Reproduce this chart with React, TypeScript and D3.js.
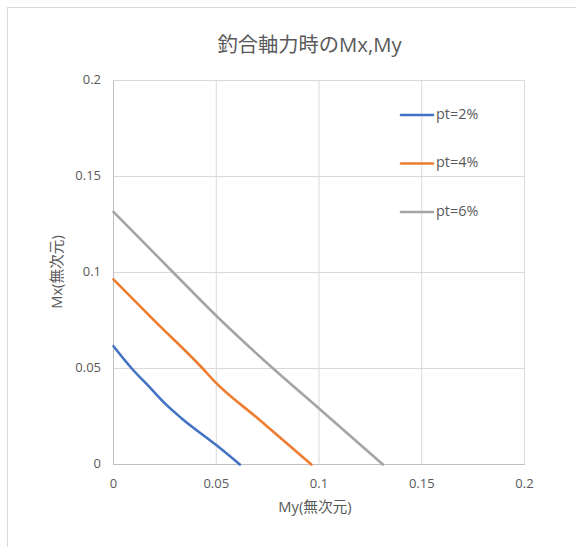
import React from "react";
import * as d3 from "d3";

const title = "釣合軸力時のMx,My";
const xTitle = "My(無次元)";
const yTitle = "Mx(無次元)";
const tickValues = [0, 0.05, 0.1, 0.15, 0.2];
const tickLabels = ["0", "0.05", "0.1", "0.15", "0.2"];

const seriesNames = ["pt=2%", "pt=4%", "pt=6%"];
const seriesColors = ["#4472C4", "#ED7D31", "#A5A5A5"];

const myPt2 = [0, 0.0089, 0.018, 0.0259, 0.0332, 0.05, 0.0615];
const mxPt2 = [0.0616, 0.05, 0.0398, 0.0309, 0.024, 0.0101, 0];
const myPt4 = [0, 0.02, 0.0434, 0.0494, 0.07, 0.0963];
const mxPt4 = [0.0964, 0.0748, 0.05, 0.043, 0.0242, 0];
const myPt6 = [0, 0.0291, 0.05, 0.0777, 0.1, 0.1311];
const mxPt6 = [0.1316, 0.1, 0.0775, 0.05, 0.0292, 0];

const seriesX = [myPt2, myPt4, myPt6];
const seriesY = [mxPt2, mxPt4, mxPt6];

const FONT = "'Open Sans', 'Noto Sans CJK JP', sans-serif";
const TEXT = "#595959";

export default function App() {
  const x = d3.scaleLinear().domain([0, 0.2]).range([113.5, 524.5]);
  const y = d3.scaleLinear().domain([0, 0.2]).range([464.5, 80.5]);
  const line = d3
    .line<[number, number]>()
    .x((d) => x(d[0]))
    .y((d) => y(d[1]))
    .curve(d3.curveMonotoneX);

  const legendY = [115, 163.5, 212];

  return (
    <svg
      width={576}
      height={547}
      style={{ position: "fixed", left: 0, top: 0, background: "#fff" }}
    >
      <rect x={0} y={0} width={576} height={547} fill="#fff" />
      <rect x={7.5} y={7.5} width={700} height={700} fill="none" stroke="#d9d9d9" />
      <text
        x={309.5}
        y={47}
        textAnchor="middle"
        dominantBaseline="middle"
        fontFamily={FONT}
        fontSize={20.3}
        fill={TEXT}
      >
        {title}
      </text>
      {tickValues.map((t, i) => (
        <line
          key={"gx" + i}
          x1={x(t)}
          x2={x(t)}
          y1={y(0)}
          y2={y(0.2)}
          stroke="#d9d9d9"
          strokeWidth={1}
        />
      ))}
      {tickValues.map((t, i) => (
        <line
          key={"gy" + i}
          x1={x(0)}
          x2={x(0.2)}
          y1={y(t)}
          y2={y(t)}
          stroke="#d9d9d9"
          strokeWidth={1}
        />
      ))}
      <line x1={x(0)} x2={x(0)} y1={y(0)} y2={y(0.2)} stroke="#bfbfbf" strokeWidth={1} />
      <line x1={x(0)} x2={x(0.2)} y1={y(0)} y2={y(0)} stroke="#bfbfbf" strokeWidth={1} />
      {tickValues.map((t, i) => (
        <text
          key={"tx" + i}
          x={x(t)}
          y={485}
          textAnchor="middle"
          dominantBaseline="middle"
          fontFamily={FONT}
          fontSize={13}
          fill={TEXT}
        >
          {tickLabels[i]}
        </text>
      ))}
      {tickValues.map((t, i) => (
        <text
          key={"ty" + i}
          x={101}
          y={y(t)}
          textAnchor="end"
          dominantBaseline="middle"
          fontFamily={FONT}
          fontSize={13}
          fill={TEXT}
        >
          {tickLabels[i]}
        </text>
      ))}
      <text
        x={315}
        y={508}
        textAnchor="middle"
        dominantBaseline="middle"
        fontFamily={FONT}
        fontSize={14.7}
        fill={TEXT}
      >
        {xTitle}
      </text>
      <text
        transform={`translate(58,272) rotate(-90)`}
        textAnchor="middle"
        dominantBaseline="middle"
        fontFamily={FONT}
        fontSize={14.7}
        fill={TEXT}
      >
        {yTitle}
      </text>
      {seriesX.map((xs, si) => (
        <path
          key={"s" + si}
          d={line(xs.map((v, j) => [v, seriesY[si][j]] as [number, number])) || ""}
          fill="none"
          stroke={seriesColors[si]}
          strokeWidth={2.6}
          strokeLinejoin="round"
          strokeLinecap="round"
        />
      ))}
      {seriesNames.map((n, i) => (
        <g key={"l" + i}>
          <line
            x1={401}
            x2={433}
            y1={legendY[i]}
            y2={legendY[i]}
            stroke={seriesColors[i]}
            strokeWidth={2.6}
            strokeLinecap="round"
          />
          <text
            x={436}
            y={legendY[i]}
            dominantBaseline="middle"
            fontFamily={FONT}
            fontSize={14.4}
            fill={TEXT}
          >
            {n}
          </text>
        </g>
      ))}
    </svg>
  );
}
